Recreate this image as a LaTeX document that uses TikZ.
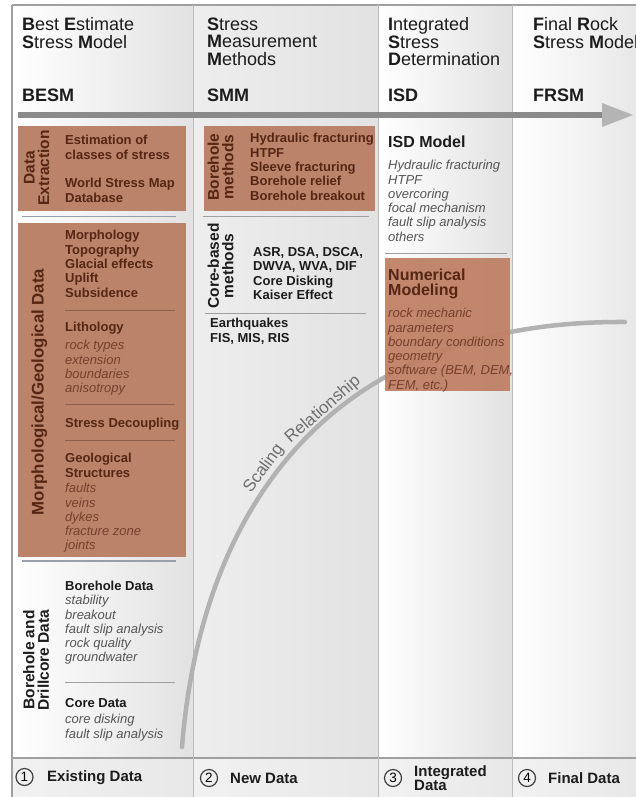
\documentclass[tikz,border=0pt]{standalone}
\usepackage{fontspec}
\setmainfont{Liberation Sans}
\definecolor{boxbrown}{RGB}{186,131,106}
\definecolor{nmbrown}{RGB}{190,127,98}
\definecolor{dkbrown}{RGB}{86,38,20}
\definecolor{mdbrown}{RGB}{118,64,44}
\definecolor{inbrown}{RGB}{140,92,72}
\definecolor{sepblue}{RGB}{150,160,170}
\definecolor{itgray}{RGB}{85,85,85}
\definecolor{nearblack}{RGB}{28,28,28}
\definecolor{barcol}{RGB}{138,138,138}
\definecolor{headcol}{RGB}{180,180,180}
\definecolor{curvecol}{RGB}{178,178,178}
\definecolor{scalecol}{RGB}{110,110,110}
\definecolor{colgray}{RGB}{226,226,226}
\definecolor{rowgray}{RGB}{232,232,232}
\definecolor{linegray}{RGB}{160,160,160}
\begin{document}
\begin{tikzpicture}[x=1pt,y=-1pt,
  txt/.style={anchor=north west, inner sep=0pt, align=left},
  hdr/.style={txt, font=\fontsize{18}{17.5}\selectfont, text=nearblack},
  abbr/.style={txt, font=\fontsize{18}{17.5}\selectfont\bfseries, text=nearblack},
  bbrown/.style={txt, font=\fontsize{13}{14.3}\selectfont\bfseries, text=dkbrown},
  ibrown/.style={txt, font=\fontsize{13}{14.25}\selectfont\itshape, text=mdbrown},
  bblack/.style={txt, font=\fontsize{13}{14.3}\selectfont\bfseries, text=nearblack},
  igray/.style={txt, font=\fontsize{13}{14.25}\selectfont\itshape, text=itgray},
  bigb/.style={txt, font=\fontsize{16}{15}\selectfont\bfseries},
  rot/.style={rotate=90, inner sep=0pt, align=center, font=\fontsize{15.5}{14.5}\selectfont\bfseries},
  scaletxt/.style={anchor=base west, inner sep=0pt, font=\fontsize{17}{17}\selectfont, text=scalecol},
  brownbox/.style={fill=boxbrown, draw=none},
  sepline/.style={draw=sepblue, line width=1.8pt},
  insep/.style={draw=inbrown, line width=0.7pt},
  graysep/.style={draw=linegray, line width=0.8pt},
  circ/.style={circle, draw=black!75, line width=1.2pt, inner sep=0pt, minimum size=17pt, font=\fontsize{13.5}{13.5}\selectfont},
  foot/.style={anchor=west, inner sep=0pt, align=left, font=\fontsize{15}{14}\selectfont\bfseries, text=nearblack}
]
\useasboundingbox (0,0) rectangle (636,797);
\fill[white] (0,0) rectangle (636,797);

% column backgrounds
\shade[left color=white, right color=colgray] (12,5) rectangle (193,758);
\shade[left color=colgray!60, right color=colgray] (193,5) rectangle (378,758);
\shade[left color=white, right color=colgray] (378,5) rectangle (512,758);
\shade[left color=white, right color=colgray!80] (512,5) rectangle (636,758);
% bottom row
\shade[left color=rowgray!60, right color=rowgray] (12,758) rectangle (193,797);
\shade[left color=rowgray!60, right color=rowgray] (193,758) rectangle (378,797);
\shade[left color=rowgray!60, right color=rowgray] (378,758) rectangle (512,797);
\shade[left color=rowgray!60, right color=rowgray] (512,758) rectangle (636,797);

% frame lines
\draw[linegray, line width=1.2pt] (12,5) -- (636,5);
\draw[linegray, line width=1.2pt] (12,5) -- (12,797);
\draw[linegray, line width=1.2pt] (12,758) -- (636,758);
\draw[linegray!70, line width=0.6pt] (193,5) -- (193,797);
\draw[linegray!70, line width=0.6pt] (378,5) -- (378,797);
\draw[linegray!70, line width=0.6pt] (512,5) -- (512,797);

% headers
\node[hdr] (h1) at (22,17.5) {\textbf{B}est \textbf{E}stimate\\\textbf{S}tress \textbf{M}odel};
\node[hdr] (h2) at (207,17.5) {\textbf{S}tress\\\textbf{M}easurement\\\textbf{M}ethods};
\node[hdr] (h3) at (388,17.5) {\textbf{I}ntegrated\\\textbf{S}tress\\\textbf{D}etermination};
\node[hdr] (h4) at (533,17.5) {\textbf{F}inal \textbf{R}ock\\\textbf{S}tress \textbf{M}odel};
\node[abbr] (a1) at (22,88.5) {BESM};
\node[abbr] (a2) at (207,88.5) {SMM};
\node[abbr] (a3) at (388,88.5) {ISD};
\node[abbr] (a4) at (533,88.5) {FRSM};

% main arrow
\coordinate (arrS) at (18,115);
\coordinate (arrE) at (602,115);
\draw[barcol, line width=6pt] (arrS) -- (arrE);
\fill[headcol] (602,103) -- (633,115) -- (602,127) -- cycle;

% scaling relationship curve
\coordinate (cS) at (182,747);
\coordinate (cE) at (625,322);
\draw[curvecol, line width=4.5pt, line cap=round] (cS) .. controls (200,520) and (320,320) .. (cE);
\node[scaletxt, rotate=54] (sc1) at (251,494) {Scaling};
\node[scaletxt, rotate=41] (sc2) at (290.5,444) {Relationship};

% ---------- column 1 ----------
\fill[brownbox] (18,126) rectangle (186,211);
\node[rot, text=dkbrown] (lDE) at (36.5,168) {Data\\Extraction};
\node[bbrown] (de1) at (65,135.3) {Estimation of\\classes of stress};
\node[bbrown] (de2) at (65,178.3) {World Stress Map\\Database};
\draw[sepline] (22,216.5) -- (176,216.5);

\fill[brownbox] (18,223) rectangle (186,557);
\node[rot, text=dkbrown, anchor=base, font=\fontsize{16.8}{16.8}\selectfont\bfseries] (lMG) at (43.5,392) {Morphological/Geological Data};
\node[bbrown] (morph) at (65,230.3) {Morphology\\Topography\\Glacial effects\\Uplift\\Subsidence};
\draw[insep] (65,310) -- (175,310);
\node[bbrown] (lith) at (65,322.3) {Lithology};
\node[ibrown] (lithi) at (65,340.3) {rock types\\extension\\boundaries\\anisotropy};
\draw[insep] (65,404) -- (175,404);
\node[bbrown] (decoup) at (65,418.3) {Stress Decoupling};
\draw[insep] (65,440) -- (175,440);
\node[bbrown] (geo) at (65,453.3) {Geological\\Structures};
\node[ibrown] (geoi) at (65,483.3) {faults\\veins\\dykes\\fracture zone\\joints};
\draw[sepline] (22,561) -- (176,561);

\node[rot, text=nearblack] (lBD) at (36,660) {Borehole and\\Drillcore Data};
\node[bblack] (bh) at (65,581.3) {Borehole Data};
\node[igray] (bhi) at (65,595.3) {stability\\breakout\\fault slip analysis\\rock quality\\groundwater};
\draw[graysep] (65,682) -- (175,682);
\node[bblack] (core) at (65,698.3) {Core Data};
\node[igray] (corei) at (65,714.3) {core disking\\fault slip analysis};

% ---------- column 2 ----------
\fill[brownbox] (204,126) rectangle (375,211);
\node[rot, text=dkbrown] (lBM) at (220.5,167) {Borehole\\methods};
\node[bbrown] (bm) at (250,133.3) {Hydraulic fracturing\\HTPF\\Sleeve fracturing\\Borehole relief\\Borehole breakout};
\draw[graysep, line width=1.4pt] (203,216.5) -- (369,216.5);
\node[rot, text=nearblack] (lCB) at (220.5,266) {Core-based\\methods};
\node[bblack] (cb) at (253,247.3) {ASR, DSA, DSCA,\\DWVA, WVA, DIF\\Core Disking\\Kaiser Effect};
\draw[graysep] (205,313) -- (366,313);
\node[bblack] (eq) at (210,318.3) {Earthquakes\\FIS, MIS, RIS};

% ---------- column 3 ----------
\node[bigb, text=nearblack] (isd) at (388,136.2) {ISD Model};
\node[igray] (isdi) at (388,160.3) {Hydraulic fracturing\\HTPF\\overcoring\\focal mechanism\\fault slip analysis\\others};
\draw[graysep] (385,253) -- (507,253);
\fill[nmbrown, fill opacity=0.93] (385,258) rectangle (510,391);
\node[bigb, text=dkbrown] (nm) at (388,269.2) {Numerical\\Modeling};
\node[ibrown] (nmi) at (388,308.3) {rock mechanic\\parameters\\boundary conditions\\geometry\\software (BEM, DEM,\\FEM, etc.)};

% ---------- bottom row ----------
\node[circ] (c1) at (24.5,777) {1};
\node[foot] (f1) at (47,778) {Existing Data};
\node[circ] (c2) at (209,778) {2};
\node[foot] (f2) at (230,778) {New Data};
\node[circ] (c3) at (393,778) {3};
\node[foot] (f3) at (414,778) {Integrated\\Data};
\node[circ] (c4) at (527,778) {4};
\node[foot] (f4) at (548,778) {Final Data};
\end{tikzpicture}
\end{document}
